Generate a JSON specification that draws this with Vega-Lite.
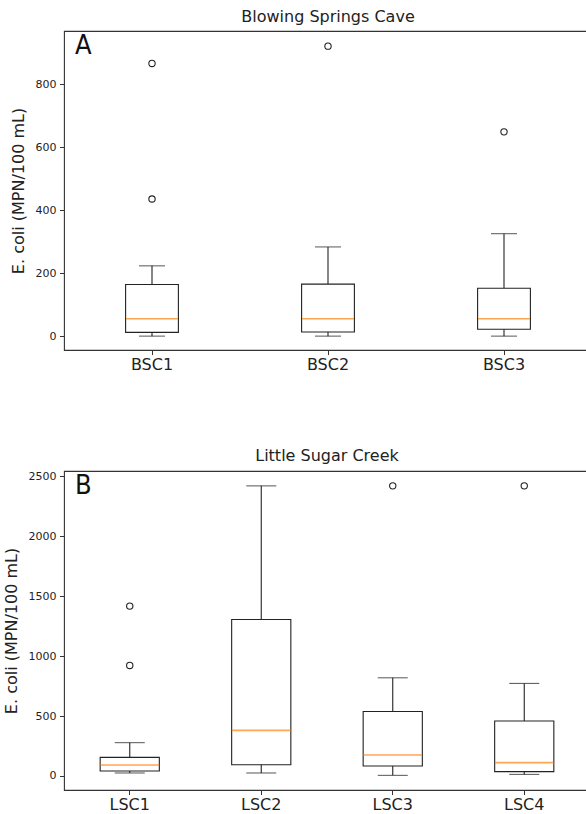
{
  "$schema": "https://vega.github.io/schema/vega-lite/v6.json",
  "padding": {"left": 2, "top": 8, "right": 0, "bottom": 0},
  "background": "white",
  "spacing": 73,
  "config": {
    "font": "DejaVu Sans",
    "view": {"stroke": "#333", "strokeWidth": 1.1},
    "axis": {"grid": false, "domain": false, "tickColor": "#333", "tickSize": 4.5, "tickWidth": 1, "labelColor": "#222", "labelFont": "DejaVu Sans", "titleFont": "DejaVu Sans", "titleColor": "#222", "titleFontWeight": "normal"},
    "title": {"font": "DejaVu Sans", "fontSize": 16, "fontWeight": "normal", "color": "#222", "offset": 6}
  },
  "vconcat": [
    {
      "title": "Blowing Springs Cave",
      "width": 528,
      "height": 319,
      "data": {"values": [
        {"site": "BSC1", "lower": 1, "q1": 13, "median": 56, "q3": 165, "upper": 224},
        {"site": "BSC2", "lower": 1, "q1": 14, "median": 56, "q3": 166, "upper": 284},
        {"site": "BSC3", "lower": 1, "q1": 23, "median": 56, "q3": 153, "upper": 326}
      ]},
      "encoding": {
        "x": {"field": "site", "type": "nominal", "title": null,
          "scale": {"type": "band", "domain": ["BSC1", "BSC2", "BSC3"], "paddingInner": 0, "paddingOuter": 0},
          "axis": {"labelAngle": 0, "labelFontSize": 16, "labelPadding": 2, "bandPosition": 0.5}}
      },
      "layer": [
        {"mark": {"type": "rule", "color": "#222", "strokeWidth": 1.1},
         "encoding": {"y": {"field": "lower", "type": "quantitative",
            "scale": {"domain": [-43, 969], "nice": false, "zero": false},
            "axis": {"values": [0, 200, 400, 600, 800], "format": "d", "labelFontSize": 11, "labelPadding": 3.5, "title": "E. coli (MPN/100 mL)", "titleFontSize": 16, "titlePadding": 9}},
           "y2": {"field": "q1"}}},
        {"mark": {"type": "rule", "color": "#222", "strokeWidth": 1.1},
         "encoding": {"y": {"field": "q3", "type": "quantitative"}, "y2": {"field": "upper"}}},
        {"mark": {"type": "bar", "fill": "white", "fillOpacity": 0, "stroke": "#222", "strokeWidth": 1.1, "width": {"band": 0.3}},
         "encoding": {"y": {"field": "q1", "type": "quantitative"}, "y2": {"field": "q3"}}},
        {"mark": {"type": "tick", "color": "#222", "size": 26, "thickness": 1.1},
         "encoding": {"y": {"field": "lower", "type": "quantitative"}}},
        {"mark": {"type": "tick", "color": "#222", "size": 26, "thickness": 1.1},
         "encoding": {"y": {"field": "upper", "type": "quantitative"}}},
        {"mark": {"type": "tick", "color": "#ff7f0e", "size": 52, "thickness": 1.6},
         "encoding": {"y": {"field": "median", "type": "quantitative"}}},
        {"data": {"values": [
            {"site": "BSC1", "value": 866},
            {"site": "BSC1", "value": 436},
            {"site": "BSC2", "value": 921},
            {"site": "BSC3", "value": 649}
          ]},
         "mark": {"type": "point", "shape": "circle", "filled": false, "color": "#222", "size": 40, "strokeWidth": 1.1, "opacity": 1},
         "encoding": {"y": {"field": "value", "type": "quantitative"}}},
        {"data": {"values": [{"label": "A"}]},
         "mark": {"type": "text", "font": "Liberation Sans Narrow, DejaVu Sans Condensed, sans-serif", "fontSize": 27, "align": "left", "baseline": "top", "dx": 11, "dy": 2, "color": "#111"},
         "encoding": {"x": {"datum": "BSC1", "bandPosition": 0}, "y": {"datum": 969}, "text": {"field": "label"}}}
      ]
    },
    {
      "title": "Little Sugar Creek",
      "width": 526,
      "height": 319,
      "data": {"values": [
        {"site": "LSC1", "lower": 25, "q1": 42, "median": 92, "q3": 155, "upper": 278},
        {"site": "LSC2", "lower": 25, "q1": 94, "median": 380, "q3": 1305, "upper": 2420},
        {"site": "LSC3", "lower": 5, "q1": 83, "median": 175, "q3": 538, "upper": 819},
        {"site": "LSC4", "lower": 13, "q1": 36, "median": 111, "q3": 458, "upper": 772}
      ]},
      "encoding": {
        "x": {"field": "site", "type": "nominal", "title": null,
          "scale": {"type": "band", "domain": ["LSC1", "LSC2", "LSC3", "LSC4"], "paddingInner": 0, "paddingOuter": 0},
          "axis": {"labelAngle": 0, "labelFontSize": 16, "labelPadding": 2, "bandPosition": 0.5}}
      },
      "layer": [
        {"mark": {"type": "rule", "color": "#222", "strokeWidth": 1.1},
         "encoding": {"y": {"field": "lower", "type": "quantitative",
            "scale": {"domain": [-117, 2544], "nice": false, "zero": false},
            "axis": {"values": [0, 500, 1000, 1500, 2000, 2500], "format": "d", "labelFontSize": 11, "labelPadding": 3.5, "title": "E. coli (MPN/100 mL)", "titleFontSize": 16, "titlePadding": 9}},
           "y2": {"field": "q1"}}},
        {"mark": {"type": "rule", "color": "#222", "strokeWidth": 1.1},
         "encoding": {"y": {"field": "q3", "type": "quantitative"}, "y2": {"field": "upper"}}},
        {"mark": {"type": "bar", "fill": "white", "fillOpacity": 0, "stroke": "#222", "strokeWidth": 1.1, "width": {"band": 0.45}},
         "encoding": {"y": {"field": "q1", "type": "quantitative"}, "y2": {"field": "q3"}}},
        {"mark": {"type": "tick", "color": "#222", "size": 30, "thickness": 1.1},
         "encoding": {"y": {"field": "lower", "type": "quantitative"}}},
        {"mark": {"type": "tick", "color": "#222", "size": 30, "thickness": 1.1},
         "encoding": {"y": {"field": "upper", "type": "quantitative"}}},
        {"mark": {"type": "tick", "color": "#ff7f0e", "size": 59, "thickness": 1.6},
         "encoding": {"y": {"field": "median", "type": "quantitative"}}},
        {"data": {"values": [
            {"site": "LSC1", "value": 1417},
            {"site": "LSC1", "value": 922},
            {"site": "LSC3", "value": 2420},
            {"site": "LSC4", "value": 2420}
          ]},
         "mark": {"type": "point", "shape": "circle", "filled": false, "color": "#222", "size": 40, "strokeWidth": 1.1, "opacity": 1},
         "encoding": {"y": {"field": "value", "type": "quantitative"}}},
        {"data": {"values": [{"label": "B"}]},
         "mark": {"type": "text", "font": "Liberation Sans Narrow, DejaVu Sans Condensed, sans-serif", "fontSize": 27, "align": "left", "baseline": "top", "dx": 11, "dy": 2, "color": "#111"},
         "encoding": {"x": {"datum": "LSC1", "bandPosition": 0}, "y": {"datum": 2544}, "text": {"field": "label"}}}
      ]
    }
  ]
}
